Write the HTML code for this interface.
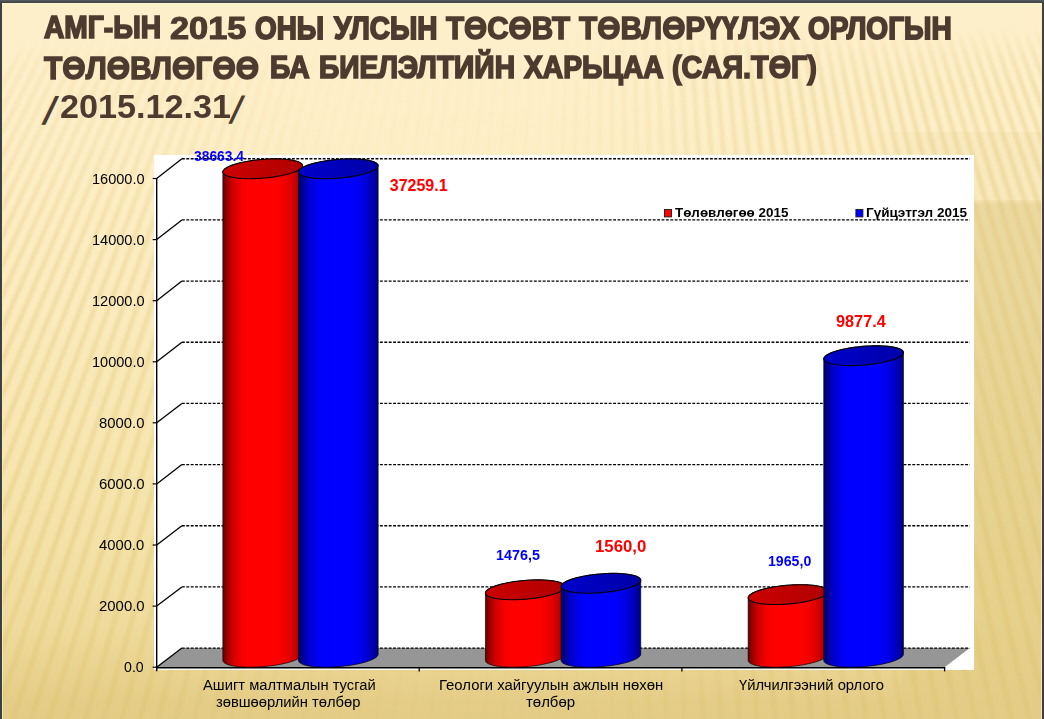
<!DOCTYPE html>
<html><head><meta charset="utf-8"><title>АМГ 2015 – төлөвлөгөө ба биелэлт</title>
<style>
html,body{margin:0;padding:0;}
body{width:1044px;height:719px;overflow:hidden;background:#3f444a;position:relative;font-family:"Liberation Sans",sans-serif;}
#frame{position:absolute;left:0;top:0;width:1044px;height:719px;background:linear-gradient(#565b5f,#3b4046 3px,#3b4046);}
#bg{position:absolute;left:2px;top:3px;width:1040px;height:716px;overflow:hidden;
 background:linear-gradient(180deg,#fdefca 0px,#fdefc9 70px,#fdeec6 160px,#fbebbe 300px,#f8e7b3 420px,#f4e2a8 530px,#efdb9c 620px,#e9d390 665px,#e4cd87 700px,#e3cc86 716px);}
#bg .shade2{position:absolute;left:860px;top:129px;right:0;height:68px;background:linear-gradient(90deg,rgba(205,180,95,0) 0px,rgba(205,180,95,.09) 70px,rgba(205,180,95,.09) 100%);}
#bg .shade{position:absolute;left:900px;top:197px;right:0;bottom:0;background:linear-gradient(180deg,rgba(205,180,95,.18) 0px,rgba(205,180,95,.36) 5px,rgba(205,180,95,.38) 230px,rgba(205,180,95,.35) 350px,rgba(205,180,95,.25) 440px,rgba(205,180,95,.08) 490px,rgba(205,180,95,0) 515px);}
svg{position:absolute;left:0;top:0;}
.x{position:absolute;white-space:nowrap;line-height:1;transform-origin:0 0;display:block;}
</style></head><body>
<div id="frame"></div>
<div id="bg"><div class="shade2"></div><div class="shade"></div></div>
<svg width="1044" height="719" viewBox="0 0 1044 719"><defs>
<filter id="sb" x="0" y="0" width="1044" height="719" filterUnits="userSpaceOnUse"><feGaussianBlur stdDeviation="1.2 0"/></filter>
<linearGradient id="mh" x1="0" y1="0" x2="1" y2="0"><stop offset="0" stop-color="#fff"/><stop offset=".14" stop-color="#eee"/><stop offset=".24" stop-color="#777"/><stop offset=".32" stop-color="#2a2a2a"/><stop offset=".56" stop-color="#2a2a2a"/><stop offset=".62" stop-color="#666"/><stop offset=".68" stop-color="#bbb"/><stop offset=".75" stop-color="#f0f0f0"/><stop offset="1" stop-color="#fff"/></linearGradient>
<linearGradient id="mv" x1="0" y1="0" x2="0" y2="1"><stop offset="0" stop-color="#000" stop-opacity="1"/><stop offset=".055" stop-color="#000" stop-opacity="1"/><stop offset=".1" stop-color="#000" stop-opacity=".55"/><stop offset=".2" stop-color="#000" stop-opacity=".4"/><stop offset=".3" stop-color="#000" stop-opacity=".15"/><stop offset=".4" stop-color="#000" stop-opacity="0"/><stop offset=".75" stop-color="#000" stop-opacity="0"/><stop offset="1" stop-color="#000" stop-opacity=".5"/></linearGradient>
<linearGradient id="mv2" x1="0" y1="0" x2="0" y2="1"><stop offset="0" stop-color="#000" stop-opacity="1"/><stop offset=".04" stop-color="#000" stop-opacity="1"/><stop offset=".075" stop-color="#000" stop-opacity=".35"/><stop offset=".12" stop-color="#000" stop-opacity="0"/><stop offset=".27" stop-color="#000" stop-opacity="0"/><stop offset=".3" stop-color="#000" stop-opacity=".35"/><stop offset=".75" stop-color="#000" stop-opacity=".35"/><stop offset="1" stop-color="#000" stop-opacity=".5"/></linearGradient>
<mask id="sm" maskUnits="userSpaceOnUse" x="0" y="0" width="1044" height="719"><rect x="0" y="0" width="1044" height="719" fill="url(#mh)"/><rect x="0" y="0" width="560" height="719" fill="url(#mv)"/><rect x="560" y="0" width="484" height="719" fill="url(#mv2)"/></mask>
<linearGradient id="fg" x1="0" y1="0" x2="0" y2="1"><stop offset="0" stop-color="#585d61"/><stop offset="1" stop-color="#3b4046"/></linearGradient>
<linearGradient id="gr00" gradientUnits="userSpaceOnUse" x1="222.9" y1="0" x2="302.5" y2="0"><stop offset="0.00" stop-color="#6a0000"/><stop offset="0.05" stop-color="#9a0000"/><stop offset="0.12" stop-color="#cc0000"/><stop offset="0.22" stop-color="#f20000"/><stop offset="0.31" stop-color="#ff0000"/><stop offset="0.68" stop-color="#ff0000"/><stop offset="0.82" stop-color="#e80000"/><stop offset="0.92" stop-color="#c20000"/><stop offset="1.00" stop-color="#8c0000"/></linearGradient>
<linearGradient id="tr00" gradientUnits="userSpaceOnUse" x1="222.9" y1="0" x2="302.5" y2="0"><stop offset="0.00" stop-color="#cc0000"/><stop offset="1.00" stop-color="#b00000"/></linearGradient>
<linearGradient id="gb01" gradientUnits="userSpaceOnUse" x1="298.5" y1="0" x2="378.1" y2="0"><stop offset="0.00" stop-color="#000066"/><stop offset="0.05" stop-color="#000094"/><stop offset="0.12" stop-color="#0000c8"/><stop offset="0.22" stop-color="#0000f0"/><stop offset="0.31" stop-color="#0000ff"/><stop offset="0.68" stop-color="#0000ff"/><stop offset="0.82" stop-color="#0000e4"/><stop offset="0.92" stop-color="#0000b8"/><stop offset="1.00" stop-color="#000084"/></linearGradient>
<linearGradient id="tb01" gradientUnits="userSpaceOnUse" x1="298.5" y1="0" x2="378.1" y2="0"><stop offset="0.00" stop-color="#0000cc"/><stop offset="1.00" stop-color="#0000a8"/></linearGradient>
<linearGradient id="gr10" gradientUnits="userSpaceOnUse" x1="485.5" y1="0" x2="565.1" y2="0"><stop offset="0.00" stop-color="#6a0000"/><stop offset="0.05" stop-color="#9a0000"/><stop offset="0.12" stop-color="#cc0000"/><stop offset="0.22" stop-color="#f20000"/><stop offset="0.31" stop-color="#ff0000"/><stop offset="0.68" stop-color="#ff0000"/><stop offset="0.82" stop-color="#e80000"/><stop offset="0.92" stop-color="#c20000"/><stop offset="1.00" stop-color="#8c0000"/></linearGradient>
<linearGradient id="tr10" gradientUnits="userSpaceOnUse" x1="485.5" y1="0" x2="565.1" y2="0"><stop offset="0.00" stop-color="#cc0000"/><stop offset="1.00" stop-color="#b00000"/></linearGradient>
<linearGradient id="gb11" gradientUnits="userSpaceOnUse" x1="561.1" y1="0" x2="640.7" y2="0"><stop offset="0.00" stop-color="#000066"/><stop offset="0.05" stop-color="#000094"/><stop offset="0.12" stop-color="#0000c8"/><stop offset="0.22" stop-color="#0000f0"/><stop offset="0.31" stop-color="#0000ff"/><stop offset="0.68" stop-color="#0000ff"/><stop offset="0.82" stop-color="#0000e4"/><stop offset="0.92" stop-color="#0000b8"/><stop offset="1.00" stop-color="#000084"/></linearGradient>
<linearGradient id="tb11" gradientUnits="userSpaceOnUse" x1="561.1" y1="0" x2="640.7" y2="0"><stop offset="0.00" stop-color="#0000cc"/><stop offset="1.00" stop-color="#0000a8"/></linearGradient>
<linearGradient id="gr20" gradientUnits="userSpaceOnUse" x1="748.2" y1="0" x2="827.8" y2="0"><stop offset="0.00" stop-color="#6a0000"/><stop offset="0.05" stop-color="#9a0000"/><stop offset="0.12" stop-color="#cc0000"/><stop offset="0.22" stop-color="#f20000"/><stop offset="0.31" stop-color="#ff0000"/><stop offset="0.68" stop-color="#ff0000"/><stop offset="0.82" stop-color="#e80000"/><stop offset="0.92" stop-color="#c20000"/><stop offset="1.00" stop-color="#8c0000"/></linearGradient>
<linearGradient id="tr20" gradientUnits="userSpaceOnUse" x1="748.2" y1="0" x2="827.8" y2="0"><stop offset="0.00" stop-color="#cc0000"/><stop offset="1.00" stop-color="#b00000"/></linearGradient>
<linearGradient id="gb21" gradientUnits="userSpaceOnUse" x1="823.8" y1="0" x2="903.4" y2="0"><stop offset="0.00" stop-color="#000066"/><stop offset="0.05" stop-color="#000094"/><stop offset="0.12" stop-color="#0000c8"/><stop offset="0.22" stop-color="#0000f0"/><stop offset="0.31" stop-color="#0000ff"/><stop offset="0.68" stop-color="#0000ff"/><stop offset="0.82" stop-color="#0000e4"/><stop offset="0.92" stop-color="#0000b8"/><stop offset="1.00" stop-color="#000084"/></linearGradient>
<linearGradient id="tb21" gradientUnits="userSpaceOnUse" x1="823.8" y1="0" x2="903.4" y2="0"><stop offset="0.00" stop-color="#0000cc"/><stop offset="1.00" stop-color="#0000a8"/></linearGradient></defs>
<g mask="url(#sm)"><g clip-path="none"><g filter="url(#sb)" fill="none" stroke="#c8a032"><path d="M50.1 -5L-335.0 725M71.7 -5L-298.6 725M93.3 -5L-262.2 725M114.9 -5L-225.8 725M136.6 -5L-189.3 725M158.2 -5L-152.9 725M179.8 -5L-116.5 725M201.4 -5L-80.1 725M223.0 -5L-43.6 725M244.6 -5L-7.2 725M266.2 -5L29.2 725M287.8 -5L65.6 725M309.4 -5L102.1 725M331.1 -5L138.5 725M352.7 -5L174.9 725M374.3 -5L211.3 725M395.9 -5L247.8 725M417.5 -5L284.2 725M439.1 -5L320.6 725M460.7 -5L357.0 725M482.3 -5L393.5 725M503.9 -5L429.9 725M525.6 -5L466.3 725M547.2 -5L502.7 725M568.8 -5L539.2 725M590.4 -5L575.6 725M612.0 -5L612.0 725M633.6 -5L648.4 725M655.2 -5L684.8 725M676.8 -5L721.3 725M698.4 -5L757.7 725M720.1 -5L794.1 725M741.7 -5L830.5 725M763.3 -5L867.0 725M784.9 -5L903.4 725M806.5 -5L939.8 725M828.1 -5L976.2 725M849.7 -5L1012.7 725M871.3 -5L1049.1 725M892.9 -5L1085.5 725M914.6 -5L1121.9 725M936.2 -5L1158.4 725M957.8 -5L1194.8 725M979.4 -5L1231.2 725M1001.0 -5L1267.6 725M1022.6 -5L1304.1 725" stroke-opacity=".17" stroke-width="4.8"/><path d="M60.9 -5L-316.8 725M82.5 -5L-280.4 725M104.1 -5L-244.0 725M125.8 -5L-207.5 725M147.4 -5L-171.1 725M169.0 -5L-134.7 725M190.6 -5L-98.3 725M212.2 -5L-61.8 725M233.8 -5L-25.4 725M255.4 -5L11.0 725M277.0 -5L47.4 725M298.6 -5L83.9 725M320.3 -5L120.3 725M341.9 -5L156.7 725M363.5 -5L193.1 725M385.1 -5L229.5 725M406.7 -5L266.0 725M428.3 -5L302.4 725M449.9 -5L338.8 725M471.5 -5L375.2 725M493.1 -5L411.7 725M514.8 -5L448.1 725M536.4 -5L484.5 725M558.0 -5L520.9 725M579.6 -5L557.4 725M601.2 -5L593.8 725M622.8 -5L630.2 725M644.4 -5L666.6 725M666.0 -5L703.1 725M687.6 -5L739.5 725M709.2 -5L775.9 725M730.9 -5L812.3 725M752.5 -5L848.8 725M774.1 -5L885.2 725M795.7 -5L921.6 725M817.3 -5L958.0 725M838.9 -5L994.5 725M860.5 -5L1030.9 725M882.1 -5L1067.3 725M903.7 -5L1103.7 725M925.4 -5L1140.1 725M947.0 -5L1176.6 725M968.6 -5L1213.0 725M990.2 -5L1249.4 725M1011.8 -5L1285.8 725M1033.4 -5L1322.3 725" stroke-opacity=".17" stroke-width="4.8"/></g></g></g>
<path d="M2.5 3.5V719M1041.5 3.5V719" stroke="#ffeeb0" stroke-opacity=".8" stroke-width="1" fill="none"/>
<path d="M2 3.5H1042" stroke="#fff6cc" stroke-opacity=".8" stroke-width="1" fill="none"/>
<path d="M0 0H1044V3H0Z" fill="url(#fg)"/>
<rect x="0" y="3" width="2" height="716" fill="#3b4046"/><rect x="1042" y="3" width="2" height="716" fill="#3b4046"/>
<rect x="154" y="155" width="820.1" height="514.9" fill="#fff"/>
<path d="M156.7 667.2 L181.9 648.1 L969.8 648.1 L944.6 667.2Z" fill="#969696"/>
<path d="M156.7 667.2 L181.9 648.1" stroke="#000" stroke-width="1.3" fill="none"/>
<path d="M181.9 648.1 L969.8 648.1" stroke="#000" stroke-width="1.4" stroke-dasharray="2.9 1.5" fill="none"/>
<path d="M152.7 667.2 L156.7 667.2" stroke="#000" stroke-width="1.2"/>
<path d="M156.7 606.1 L181.9 586.9" stroke="#000" stroke-width="1.3" fill="none"/>
<path d="M181.9 586.9 L969.8 586.9" stroke="#000" stroke-width="1.4" stroke-dasharray="2.9 1.5" fill="none"/>
<path d="M152.7 606.1 L156.7 606.1" stroke="#000" stroke-width="1.2"/>
<path d="M156.7 545.0 L181.9 525.8" stroke="#000" stroke-width="1.3" fill="none"/>
<path d="M181.9 525.8 L969.8 525.8" stroke="#000" stroke-width="1.4" stroke-dasharray="2.9 1.5" fill="none"/>
<path d="M152.7 545.0 L156.7 545.0" stroke="#000" stroke-width="1.2"/>
<path d="M156.7 483.9 L181.9 464.6" stroke="#000" stroke-width="1.3" fill="none"/>
<path d="M181.9 464.6 L969.8 464.6" stroke="#000" stroke-width="1.4" stroke-dasharray="2.9 1.5" fill="none"/>
<path d="M152.7 483.9 L156.7 483.9" stroke="#000" stroke-width="1.2"/>
<path d="M156.7 422.8 L181.9 403.4" stroke="#000" stroke-width="1.3" fill="none"/>
<path d="M181.9 403.4 L969.8 403.4" stroke="#000" stroke-width="1.4" stroke-dasharray="2.9 1.5" fill="none"/>
<path d="M152.7 422.8 L156.7 422.8" stroke="#000" stroke-width="1.2"/>
<path d="M156.7 361.8 L181.9 342.2" stroke="#000" stroke-width="1.3" fill="none"/>
<path d="M181.9 342.2 L969.8 342.2" stroke="#000" stroke-width="1.4" stroke-dasharray="2.9 1.5" fill="none"/>
<path d="M152.7 361.8 L156.7 361.8" stroke="#000" stroke-width="1.2"/>
<path d="M156.7 300.7 L181.9 281.1" stroke="#000" stroke-width="1.3" fill="none"/>
<path d="M181.9 281.1 L969.8 281.1" stroke="#000" stroke-width="1.4" stroke-dasharray="2.9 1.5" fill="none"/>
<path d="M152.7 300.7 L156.7 300.7" stroke="#000" stroke-width="1.2"/>
<path d="M156.7 239.6 L181.9 219.9" stroke="#000" stroke-width="1.3" fill="none"/>
<path d="M181.9 219.9 L969.8 219.9" stroke="#000" stroke-width="1.4" stroke-dasharray="2.9 1.5" fill="none"/>
<path d="M152.7 239.6 L156.7 239.6" stroke="#000" stroke-width="1.2"/>
<path d="M156.7 178.5 L181.9 158.7" stroke="#000" stroke-width="1.3" fill="none"/>
<path d="M181.9 158.7 L969.8 158.7" stroke="#000" stroke-width="1.4" stroke-dasharray="2.9 1.5" fill="none"/>
<path d="M152.7 178.5 L156.7 178.5" stroke="#000" stroke-width="1.2"/>
<path d="M156.7 178.0 L156.7 671.2" stroke="#000" stroke-width="1.4"/>
<path d="M156.2 667.8 L945.2 667.8" stroke="#000" stroke-width="1.6"/>
<path d="M419.2 667.2 L419.2 671.4" stroke="#000" stroke-width="1.3"/>
<path d="M681.9 667.2 L681.9 671.4" stroke="#000" stroke-width="1.3"/>
<path d="M944.6 667.2 L944.6 671.4" stroke="#000" stroke-width="1.3"/>
<path d="M222.86 171.93 L222.86 660.43 L222.98 661.16 L223.35 661.86 L223.96 662.54 L224.81 663.18 L225.89 663.79 L227.20 664.35 L228.73 664.88 L230.46 665.35 L232.40 665.78 L234.53 666.15 L236.82 666.47 L239.28 666.74 L241.88 666.94 L244.61 667.09 L247.45 667.18 L250.39 667.20 L253.40 667.16 L256.47 667.07 L259.57 666.91 L262.70 666.69 L265.83 666.42 L268.93 666.09 L272.00 665.70 L275.01 665.26 L277.95 664.78 L280.79 664.25 L283.52 663.67 L286.12 663.06 L288.58 662.41 L290.87 661.73 L293.00 661.02 L294.94 660.29 L296.67 659.54 L298.20 658.77 L299.51 658.00 L300.59 657.22 L301.44 656.45 L302.05 655.68 L302.42 654.92 L302.54 654.17 L302.54 165.67 L302.42 164.94 L302.05 164.24 L301.44 163.56 L300.59 162.92 L299.51 162.31 L298.20 161.75 L296.67 161.22 L294.94 160.75 L293.00 160.32 L290.87 159.95 L288.58 159.63 L286.12 159.36 L283.52 159.16 L280.79 159.01 L277.95 158.92 L275.01 158.90 L272.00 158.94 L268.93 159.03 L265.83 159.19 L262.70 159.41 L259.57 159.68 L256.47 160.01 L253.40 160.40 L250.39 160.84 L247.45 161.32 L244.61 161.85 L241.88 162.43 L239.28 163.04 L236.82 163.69 L234.53 164.37 L232.40 165.08 L230.46 165.81 L228.73 166.56 L227.20 167.33 L225.89 168.10 L224.81 168.88 L223.96 169.65 L223.35 170.42 L222.98 171.18Z" fill="url(#gr00)" stroke="#000" stroke-opacity=".75" stroke-width=".9"/>
<path d="M300.50 168.80 L301.45 167.94 L302.11 167.08 L302.47 166.24 L302.53 165.41 L302.28 164.62 L301.74 163.85 L300.89 163.12 L299.76 162.44 L298.34 161.80 L296.65 161.22 L294.70 160.69 L292.51 160.23 L290.09 159.83 L287.47 159.50 L284.65 159.24 L281.67 159.05 L278.55 158.94 L275.30 158.90 L271.96 158.94 L268.54 159.05 L265.09 159.24 L261.61 159.50 L258.14 159.83 L254.71 160.23 L251.34 160.69 L248.05 161.22 L244.88 161.80 L241.84 162.44 L238.96 163.12 L236.26 163.85 L233.77 164.62 L231.49 165.41 L229.45 166.24 L227.66 167.08 L226.14 167.94 L224.90 168.80 L223.95 169.66 L223.29 170.52 L222.93 171.36 L222.87 172.19 L223.12 172.98 L223.66 173.75 L224.51 174.48 L225.64 175.16 L227.06 175.80 L228.75 176.38 L230.70 176.91 L232.89 177.37 L235.31 177.77 L237.93 178.10 L240.75 178.36 L243.73 178.55 L246.85 178.66 L250.10 178.70 L253.44 178.66 L256.86 178.55 L260.31 178.36 L263.79 178.10 L267.26 177.77 L270.69 177.37 L274.06 176.91 L277.35 176.38 L280.52 175.80 L283.56 175.16 L286.44 174.48 L289.14 173.75 L291.63 172.98 L293.91 172.19 L295.95 171.36 L297.74 170.52 L299.26 169.66Z" fill="url(#tr00)" stroke="#000" stroke-opacity=".95" stroke-width="1.15"/>
<path d="M298.46 171.93 L298.46 660.43 L298.58 661.16 L298.95 661.86 L299.56 662.54 L300.41 663.18 L301.49 663.79 L302.80 664.35 L304.33 664.88 L306.06 665.35 L308.00 665.78 L310.13 666.15 L312.42 666.47 L314.88 666.74 L317.48 666.94 L320.21 667.09 L323.05 667.18 L325.99 667.20 L329.00 667.16 L332.07 667.07 L335.17 666.91 L338.30 666.69 L341.43 666.42 L344.53 666.09 L347.60 665.70 L350.61 665.26 L353.55 664.78 L356.39 664.25 L359.12 663.67 L361.72 663.06 L364.18 662.41 L366.47 661.73 L368.60 661.02 L370.54 660.29 L372.27 659.54 L373.80 658.77 L375.11 658.00 L376.19 657.22 L377.04 656.45 L377.65 655.68 L378.02 654.92 L378.14 654.17 L378.14 165.67 L378.02 164.94 L377.65 164.24 L377.04 163.56 L376.19 162.92 L375.11 162.31 L373.80 161.75 L372.27 161.22 L370.54 160.75 L368.60 160.32 L366.47 159.95 L364.18 159.63 L361.72 159.36 L359.12 159.16 L356.39 159.01 L353.55 158.92 L350.61 158.90 L347.60 158.94 L344.53 159.03 L341.43 159.19 L338.30 159.41 L335.17 159.68 L332.07 160.01 L329.00 160.40 L325.99 160.84 L323.05 161.32 L320.21 161.85 L317.48 162.43 L314.88 163.04 L312.42 163.69 L310.13 164.37 L308.00 165.08 L306.06 165.81 L304.33 166.56 L302.80 167.33 L301.49 168.10 L300.41 168.88 L299.56 169.65 L298.95 170.42 L298.58 171.18Z" fill="url(#gb01)" stroke="#000" stroke-opacity=".75" stroke-width=".9"/>
<path d="M376.10 168.80 L377.05 167.94 L377.71 167.08 L378.07 166.24 L378.13 165.41 L377.88 164.62 L377.34 163.85 L376.49 163.12 L375.36 162.44 L373.94 161.80 L372.25 161.22 L370.30 160.69 L368.11 160.23 L365.69 159.83 L363.07 159.50 L360.25 159.24 L357.27 159.05 L354.15 158.94 L350.90 158.90 L347.56 158.94 L344.14 159.05 L340.69 159.24 L337.21 159.50 L333.74 159.83 L330.31 160.23 L326.94 160.69 L323.65 161.22 L320.48 161.80 L317.44 162.44 L314.56 163.12 L311.86 163.85 L309.37 164.62 L307.09 165.41 L305.05 166.24 L303.26 167.08 L301.74 167.94 L300.50 168.80 L299.55 169.66 L298.89 170.52 L298.53 171.36 L298.47 172.19 L298.72 172.98 L299.26 173.75 L300.11 174.48 L301.24 175.16 L302.66 175.80 L304.35 176.38 L306.30 176.91 L308.49 177.37 L310.91 177.77 L313.53 178.10 L316.35 178.36 L319.33 178.55 L322.45 178.66 L325.70 178.70 L329.04 178.66 L332.46 178.55 L335.91 178.36 L339.39 178.10 L342.86 177.77 L346.29 177.37 L349.66 176.91 L352.95 176.38 L356.12 175.80 L359.16 175.16 L362.04 174.48 L364.74 173.75 L367.23 172.98 L369.51 172.19 L371.55 171.36 L373.34 170.52 L374.86 169.66Z" fill="url(#tb01)" stroke="#000" stroke-opacity=".95" stroke-width="1.15"/>
<path d="M485.46 592.93 L485.46 660.43 L485.58 661.16 L485.95 661.86 L486.56 662.54 L487.41 663.18 L488.49 663.79 L489.80 664.35 L491.33 664.88 L493.06 665.35 L495.00 665.78 L497.13 666.15 L499.42 666.47 L501.88 666.74 L504.48 666.94 L507.21 667.09 L510.05 667.18 L512.99 667.20 L516.00 667.16 L519.07 667.07 L522.17 666.91 L525.30 666.69 L528.43 666.42 L531.53 666.09 L534.60 665.70 L537.61 665.26 L540.55 664.78 L543.39 664.25 L546.12 663.67 L548.72 663.06 L551.18 662.41 L553.47 661.73 L555.60 661.02 L557.54 660.29 L559.27 659.54 L560.80 658.77 L562.11 658.00 L563.19 657.22 L564.04 656.45 L564.65 655.68 L565.02 654.92 L565.14 654.17 L565.14 586.67 L565.02 585.94 L564.65 585.24 L564.04 584.56 L563.19 583.92 L562.11 583.31 L560.80 582.75 L559.27 582.22 L557.54 581.75 L555.60 581.32 L553.47 580.95 L551.18 580.63 L548.72 580.36 L546.12 580.16 L543.39 580.01 L540.55 579.92 L537.61 579.90 L534.60 579.94 L531.53 580.03 L528.43 580.19 L525.30 580.41 L522.17 580.68 L519.07 581.01 L516.00 581.40 L512.99 581.84 L510.05 582.32 L507.21 582.85 L504.48 583.43 L501.88 584.04 L499.42 584.69 L497.13 585.37 L495.00 586.08 L493.06 586.81 L491.33 587.56 L489.80 588.33 L488.49 589.10 L487.41 589.88 L486.56 590.65 L485.95 591.42 L485.58 592.18Z" fill="url(#gr10)" stroke="#000" stroke-opacity=".75" stroke-width=".9"/>
<path d="M563.10 589.80 L564.05 588.94 L564.71 588.08 L565.07 587.24 L565.13 586.41 L564.88 585.62 L564.34 584.85 L563.49 584.12 L562.36 583.44 L560.94 582.80 L559.25 582.22 L557.30 581.69 L555.11 581.23 L552.69 580.83 L550.07 580.50 L547.25 580.24 L544.27 580.05 L541.15 579.94 L537.90 579.90 L534.56 579.94 L531.14 580.05 L527.69 580.24 L524.21 580.50 L520.74 580.83 L517.31 581.23 L513.94 581.69 L510.65 582.22 L507.48 582.80 L504.44 583.44 L501.56 584.12 L498.86 584.85 L496.37 585.62 L494.09 586.41 L492.05 587.24 L490.26 588.08 L488.74 588.94 L487.50 589.80 L486.55 590.66 L485.89 591.52 L485.53 592.36 L485.47 593.19 L485.72 593.98 L486.26 594.75 L487.11 595.48 L488.24 596.16 L489.66 596.80 L491.35 597.38 L493.30 597.91 L495.49 598.37 L497.91 598.77 L500.53 599.10 L503.35 599.36 L506.33 599.55 L509.45 599.66 L512.70 599.70 L516.04 599.66 L519.46 599.55 L522.91 599.36 L526.39 599.10 L529.86 598.77 L533.29 598.37 L536.66 597.91 L539.95 597.38 L543.12 596.80 L546.16 596.16 L549.04 595.48 L551.74 594.75 L554.23 593.98 L556.51 593.19 L558.55 592.36 L560.34 591.52 L561.86 590.66Z" fill="url(#tr10)" stroke="#000" stroke-opacity=".95" stroke-width="1.15"/>
<path d="M561.06 586.43 L561.06 660.43 L561.18 661.16 L561.55 661.86 L562.16 662.54 L563.01 663.18 L564.09 663.79 L565.40 664.35 L566.93 664.88 L568.66 665.35 L570.60 665.78 L572.73 666.15 L575.02 666.47 L577.48 666.74 L580.08 666.94 L582.81 667.09 L585.65 667.18 L588.59 667.20 L591.60 667.16 L594.67 667.07 L597.77 666.91 L600.90 666.69 L604.03 666.42 L607.13 666.09 L610.20 665.70 L613.21 665.26 L616.15 664.78 L618.99 664.25 L621.72 663.67 L624.32 663.06 L626.78 662.41 L629.07 661.73 L631.20 661.02 L633.14 660.29 L634.87 659.54 L636.40 658.77 L637.71 658.00 L638.79 657.22 L639.64 656.45 L640.25 655.68 L640.62 654.92 L640.74 654.17 L640.74 580.17 L640.62 579.44 L640.25 578.74 L639.64 578.06 L638.79 577.42 L637.71 576.81 L636.40 576.25 L634.87 575.72 L633.14 575.25 L631.20 574.82 L629.07 574.45 L626.78 574.13 L624.32 573.86 L621.72 573.66 L618.99 573.51 L616.15 573.42 L613.21 573.40 L610.20 573.44 L607.13 573.53 L604.03 573.69 L600.90 573.91 L597.77 574.18 L594.67 574.51 L591.60 574.90 L588.59 575.34 L585.65 575.82 L582.81 576.35 L580.08 576.93 L577.48 577.54 L575.02 578.19 L572.73 578.87 L570.60 579.58 L568.66 580.31 L566.93 581.06 L565.40 581.83 L564.09 582.60 L563.01 583.38 L562.16 584.15 L561.55 584.92 L561.18 585.68Z" fill="url(#gb11)" stroke="#000" stroke-opacity=".75" stroke-width=".9"/>
<path d="M638.70 583.30 L639.65 582.44 L640.31 581.58 L640.67 580.74 L640.73 579.91 L640.48 579.12 L639.94 578.35 L639.09 577.62 L637.96 576.94 L636.54 576.30 L634.85 575.72 L632.90 575.19 L630.71 574.73 L628.29 574.33 L625.67 574.00 L622.85 573.74 L619.87 573.55 L616.75 573.44 L613.50 573.40 L610.16 573.44 L606.74 573.55 L603.29 573.74 L599.81 574.00 L596.34 574.33 L592.91 574.73 L589.54 575.19 L586.25 575.72 L583.08 576.30 L580.04 576.94 L577.16 577.62 L574.46 578.35 L571.97 579.12 L569.69 579.91 L567.65 580.74 L565.86 581.58 L564.34 582.44 L563.10 583.30 L562.15 584.16 L561.49 585.02 L561.13 585.86 L561.07 586.69 L561.32 587.48 L561.86 588.25 L562.71 588.98 L563.84 589.66 L565.26 590.30 L566.95 590.88 L568.90 591.41 L571.09 591.87 L573.51 592.27 L576.13 592.60 L578.95 592.86 L581.93 593.05 L585.05 593.16 L588.30 593.20 L591.64 593.16 L595.06 593.05 L598.51 592.86 L601.99 592.60 L605.46 592.27 L608.89 591.87 L612.26 591.41 L615.55 590.88 L618.72 590.30 L621.76 589.66 L624.64 588.98 L627.34 588.25 L629.83 587.48 L632.11 586.69 L634.15 585.86 L635.94 585.02 L637.46 584.16Z" fill="url(#tb11)" stroke="#000" stroke-opacity=".95" stroke-width="1.15"/>
<path d="M748.16 597.73 L748.16 660.43 L748.28 661.16 L748.65 661.86 L749.26 662.54 L750.11 663.18 L751.19 663.79 L752.50 664.35 L754.03 664.88 L755.76 665.35 L757.70 665.78 L759.83 666.15 L762.12 666.47 L764.58 666.74 L767.18 666.94 L769.91 667.09 L772.75 667.18 L775.69 667.20 L778.70 667.16 L781.77 667.07 L784.87 666.91 L788.00 666.69 L791.13 666.42 L794.23 666.09 L797.30 665.70 L800.31 665.26 L803.25 664.78 L806.09 664.25 L808.82 663.67 L811.42 663.06 L813.88 662.41 L816.17 661.73 L818.30 661.02 L820.24 660.29 L821.97 659.54 L823.50 658.77 L824.81 658.00 L825.89 657.22 L826.74 656.45 L827.35 655.68 L827.72 654.92 L827.84 654.17 L827.84 591.47 L827.72 590.74 L827.35 590.04 L826.74 589.36 L825.89 588.72 L824.81 588.11 L823.50 587.55 L821.97 587.02 L820.24 586.55 L818.30 586.12 L816.17 585.75 L813.88 585.43 L811.42 585.16 L808.82 584.96 L806.09 584.81 L803.25 584.72 L800.31 584.70 L797.30 584.74 L794.23 584.83 L791.13 584.99 L788.00 585.21 L784.87 585.48 L781.77 585.81 L778.70 586.20 L775.69 586.64 L772.75 587.12 L769.91 587.65 L767.18 588.23 L764.58 588.84 L762.12 589.49 L759.83 590.17 L757.70 590.88 L755.76 591.61 L754.03 592.36 L752.50 593.13 L751.19 593.90 L750.11 594.68 L749.26 595.45 L748.65 596.22 L748.28 596.98Z" fill="url(#gr20)" stroke="#000" stroke-opacity=".75" stroke-width=".9"/>
<path d="M825.80 594.60 L826.75 593.74 L827.41 592.88 L827.77 592.04 L827.83 591.21 L827.58 590.42 L827.04 589.65 L826.19 588.92 L825.06 588.24 L823.64 587.60 L821.95 587.02 L820.00 586.49 L817.81 586.03 L815.39 585.63 L812.77 585.30 L809.95 585.04 L806.97 584.85 L803.85 584.74 L800.60 584.70 L797.26 584.74 L793.84 584.85 L790.39 585.04 L786.91 585.30 L783.44 585.63 L780.01 586.03 L776.64 586.49 L773.35 587.02 L770.18 587.60 L767.14 588.24 L764.26 588.92 L761.56 589.65 L759.07 590.42 L756.79 591.21 L754.75 592.04 L752.96 592.88 L751.44 593.74 L750.20 594.60 L749.25 595.46 L748.59 596.32 L748.23 597.16 L748.17 597.99 L748.42 598.78 L748.96 599.55 L749.81 600.28 L750.94 600.96 L752.36 601.60 L754.05 602.18 L756.00 602.71 L758.19 603.17 L760.61 603.57 L763.23 603.90 L766.05 604.16 L769.03 604.35 L772.15 604.46 L775.40 604.50 L778.74 604.46 L782.16 604.35 L785.61 604.16 L789.09 603.90 L792.56 603.57 L795.99 603.17 L799.36 602.71 L802.65 602.18 L805.82 601.60 L808.86 600.96 L811.74 600.28 L814.44 599.55 L816.93 598.78 L819.21 597.99 L821.25 597.16 L823.04 596.32 L824.56 595.46Z" fill="url(#tr20)" stroke="#000" stroke-opacity=".95" stroke-width="1.15"/>
<path d="M823.76 358.83 L823.76 660.43 L823.88 661.16 L824.25 661.86 L824.86 662.54 L825.71 663.18 L826.79 663.79 L828.10 664.35 L829.63 664.88 L831.36 665.35 L833.30 665.78 L835.43 666.15 L837.72 666.47 L840.18 666.74 L842.78 666.94 L845.51 667.09 L848.35 667.18 L851.29 667.20 L854.30 667.16 L857.37 667.07 L860.47 666.91 L863.60 666.69 L866.73 666.42 L869.83 666.09 L872.90 665.70 L875.91 665.26 L878.85 664.78 L881.69 664.25 L884.42 663.67 L887.02 663.06 L889.48 662.41 L891.77 661.73 L893.90 661.02 L895.84 660.29 L897.57 659.54 L899.10 658.77 L900.41 658.00 L901.49 657.22 L902.34 656.45 L902.95 655.68 L903.32 654.92 L903.44 654.17 L903.44 352.57 L903.32 351.84 L902.95 351.14 L902.34 350.46 L901.49 349.82 L900.41 349.21 L899.10 348.65 L897.57 348.12 L895.84 347.65 L893.90 347.22 L891.77 346.85 L889.48 346.53 L887.02 346.26 L884.42 346.06 L881.69 345.91 L878.85 345.82 L875.91 345.80 L872.90 345.84 L869.83 345.93 L866.73 346.09 L863.60 346.31 L860.47 346.58 L857.37 346.91 L854.30 347.30 L851.29 347.74 L848.35 348.22 L845.51 348.75 L842.78 349.33 L840.18 349.94 L837.72 350.59 L835.43 351.27 L833.30 351.98 L831.36 352.71 L829.63 353.46 L828.10 354.23 L826.79 355.00 L825.71 355.78 L824.86 356.55 L824.25 357.32 L823.88 358.08Z" fill="url(#gb21)" stroke="#000" stroke-opacity=".75" stroke-width=".9"/>
<path d="M901.40 355.70 L902.35 354.84 L903.01 353.98 L903.37 353.14 L903.43 352.31 L903.18 351.52 L902.64 350.75 L901.79 350.02 L900.66 349.34 L899.24 348.70 L897.55 348.12 L895.60 347.59 L893.41 347.13 L890.99 346.73 L888.37 346.40 L885.55 346.14 L882.57 345.95 L879.45 345.84 L876.20 345.80 L872.86 345.84 L869.44 345.95 L865.99 346.14 L862.51 346.40 L859.04 346.73 L855.61 347.13 L852.24 347.59 L848.95 348.12 L845.78 348.70 L842.74 349.34 L839.86 350.02 L837.16 350.75 L834.67 351.52 L832.39 352.31 L830.35 353.14 L828.56 353.98 L827.04 354.84 L825.80 355.70 L824.85 356.56 L824.19 357.42 L823.83 358.26 L823.77 359.09 L824.02 359.88 L824.56 360.65 L825.41 361.38 L826.54 362.06 L827.96 362.70 L829.65 363.28 L831.60 363.81 L833.79 364.27 L836.21 364.67 L838.83 365.00 L841.65 365.26 L844.63 365.45 L847.75 365.56 L851.00 365.60 L854.34 365.56 L857.76 365.45 L861.21 365.26 L864.69 365.00 L868.16 364.67 L871.59 364.27 L874.96 363.81 L878.25 363.28 L881.42 362.70 L884.46 362.06 L887.34 361.38 L890.04 360.65 L892.53 359.88 L894.81 359.09 L896.85 358.26 L898.64 357.42 L900.16 356.56Z" fill="url(#tb21)" stroke="#000" stroke-opacity=".95" stroke-width="1.15"/>
<rect x="664.5" y="209.5" width="7" height="7.4" fill="#ff0000" stroke="#1a1a1a" stroke-width=".9"/>
<rect x="855.9" y="209.5" width="7" height="7.4" fill="#0000ff" stroke="#1a1a1a" stroke-width=".9"/>
</svg>
<span class="x" style="left:43.74px;top:13.06px;font-size:30.7px;color:#4d3b30;font-weight:bold;-webkit-text-stroke:1.71px #4d3b30;transform:scaleX(0.9180);">АМГ-ЫН</span>
<span class="x" style="left:169.82px;top:12.61px;font-size:31.59px;color:#4d3b30;font-weight:bold;-webkit-text-stroke:1.1px #4d3b30;transform:scaleX(1.0876);">2015</span>
<span class="x" style="left:255.14px;top:13.11px;font-size:30.6px;color:#4d3b30;font-weight:bold;-webkit-text-stroke:1.78px #4d3b30;transform:scaleX(0.9101);">ОНЫ</span>
<span class="x" style="left:333.81px;top:13.10px;font-size:30.61px;color:#4d3b30;font-weight:bold;-webkit-text-stroke:1.78px #4d3b30;transform:scaleX(0.9109);">УЛСЫН</span>
<span class="x" style="left:445.78px;top:12.84px;font-size:31.13px;color:#4d3b30;font-weight:bold;-webkit-text-stroke:1.42px #4d3b30;transform:scaleX(0.9528);">ТӨСӨВТ</span>
<span class="x" style="left:578.86px;top:12.81px;font-size:31.18px;color:#4d3b30;font-weight:bold;-webkit-text-stroke:1.39px #4d3b30;transform:scaleX(0.9567);">ТӨВЛӨРҮҮЛЭХ</span>
<span class="x" style="left:807.92px;top:13.07px;font-size:30.66px;color:#4d3b30;font-weight:bold;-webkit-text-stroke:1.75px #4d3b30;transform:scaleX(0.9139);">ОРЛОГЫН</span>
<span class="x" style="left:44.05px;top:52.79px;font-size:31.23px;color:#4d3b30;font-weight:bold;-webkit-text-stroke:1.35px #4d3b30;transform:scaleX(0.9611);">ТӨЛӨВЛӨГӨӨ</span>
<span class="x" style="left:269.83px;top:53.05px;font-size:30.7px;color:#4d3b30;font-weight:bold;-webkit-text-stroke:1.72px #4d3b30;transform:scaleX(0.9176);">БА</span>
<span class="x" style="left:319.32px;top:53.05px;font-size:30.71px;color:#4d3b30;font-weight:bold;-webkit-text-stroke:1.71px #4d3b30;transform:scaleX(0.9183);">БИЕЛЭЛТИЙН</span>
<span class="x" style="left:523.58px;top:53.05px;font-size:30.72px;color:#4d3b30;font-weight:bold;-webkit-text-stroke:1.7px #4d3b30;transform:scaleX(0.9192);">ХАРЬЦАА</span>
<span class="x" style="left:672.19px;top:52.97px;font-size:30.88px;color:#4d3b30;font-weight:bold;-webkit-text-stroke:1.59px #4d3b30;transform:scaleX(0.9315);">(САЯ.ТӨГ)</span>
<span class="x" style="left:40.62px;top:91.65px;font-size:38.56px;font-weight:bold;color:#4d3b30;transform-origin:0 32.64px;transform:skewX(-17.44deg) scaleX(0.8791);">/</span>
<span class="x" style="left:59.53px;top:91.17px;font-size:32.4px;color:#4d3b30;font-weight:bold;transform:scaleX(1.0553);">2015.12.31</span>
<span class="x" style="left:227.72px;top:91.93px;font-size:37.91px;font-weight:bold;color:#4d3b30;transform-origin:0 32.09px;transform:skewX(-17.82deg) scaleX(0.8048);">/</span>
<span class="x" style="left:124.46px;top:660.35px;font-size:14px;color:#000;transform:scaleX(1.0120);">0.0</span>
<span class="x" style="left:98.50px;top:599.26px;font-size:14px;color:#000;transform:scaleX(1.0666);">2000.0</span>
<span class="x" style="left:98.97px;top:538.17px;font-size:14px;color:#000;transform:scaleX(1.0555);">4000.0</span>
<span class="x" style="left:98.50px;top:477.08px;font-size:14px;color:#000;transform:scaleX(1.0666);">6000.0</span>
<span class="x" style="left:98.74px;top:415.99px;font-size:14px;color:#000;transform:scaleX(1.0610);">8000.0</span>
<span class="x" style="left:91.59px;top:354.90px;font-size:14px;color:#000;transform:scaleX(1.0388);">10000.0</span>
<span class="x" style="left:91.59px;top:293.81px;font-size:14px;color:#000;transform:scaleX(1.0388);">12000.0</span>
<span class="x" style="left:91.59px;top:232.72px;font-size:14px;color:#000;transform:scaleX(1.0388);">14000.0</span>
<span class="x" style="left:91.59px;top:171.63px;font-size:14px;color:#000;transform:scaleX(1.0388);">16000.0</span>
<span class="x" style="left:202.50px;top:677.85px;font-size:14px;color:#000;transform:scaleX(1.0537);">Ашигт малтмалын тусгай</span>
<span class="x" style="left:215.67px;top:694.55px;font-size:14px;color:#000;transform:scaleX(1.0531);">зөвшөөрлийн төлбөр</span>
<span class="x" style="left:438.54px;top:678.15px;font-size:14px;color:#000;transform:scaleX(1.0625);">Геологи хайгуулын ажлын нөхөн</span>
<span class="x" style="left:526.37px;top:694.95px;font-size:14px;color:#000;transform:scaleX(1.0670);">төлбөр</span>
<span class="x" style="left:738.60px;top:677.65px;font-size:14px;color:#000;transform:scaleX(1.0561);">Үйлчилгээний орлого</span>
<span class="x" style="left:194.08px;top:148.85px;font-size:14px;color:#0000ff;font-weight:bold;transform:scaleX(0.9886);">38663.4</span>
<span class="x" style="left:389.75px;top:177.56px;font-size:16px;color:#ff0000;font-weight:bold;">37259.1</span>
<span class="x" style="left:836.39px;top:314.46px;font-size:16px;color:#ff0000;font-weight:bold;transform:scaleX(1.0177);">9877.4</span>
<span class="x" style="left:495.80px;top:548.05px;font-size:14px;color:#0000ff;font-weight:bold;transform:scaleX(1.0241);">1476,5</span>
<span class="x" style="left:594.65px;top:539.36px;font-size:16px;color:#ff0000;font-weight:bold;transform:scaleX(1.0489);">1560,0</span>
<span class="x" style="left:767.92px;top:553.95px;font-size:14px;color:#0000ff;font-weight:bold;transform:scaleX(1.0102);">1965,0</span>
<span class="x" style="left:674.80px;top:206.40px;font-size:13px;color:#000;font-weight:bold;transform:scaleX(1.0310);">Төлөвлөгөө 2015</span>
<span class="x" style="left:865.65px;top:206.40px;font-size:13px;color:#000;font-weight:bold;transform:scaleX(1.0419);">Гүйцэтгэл 2015</span>
</body></html>
